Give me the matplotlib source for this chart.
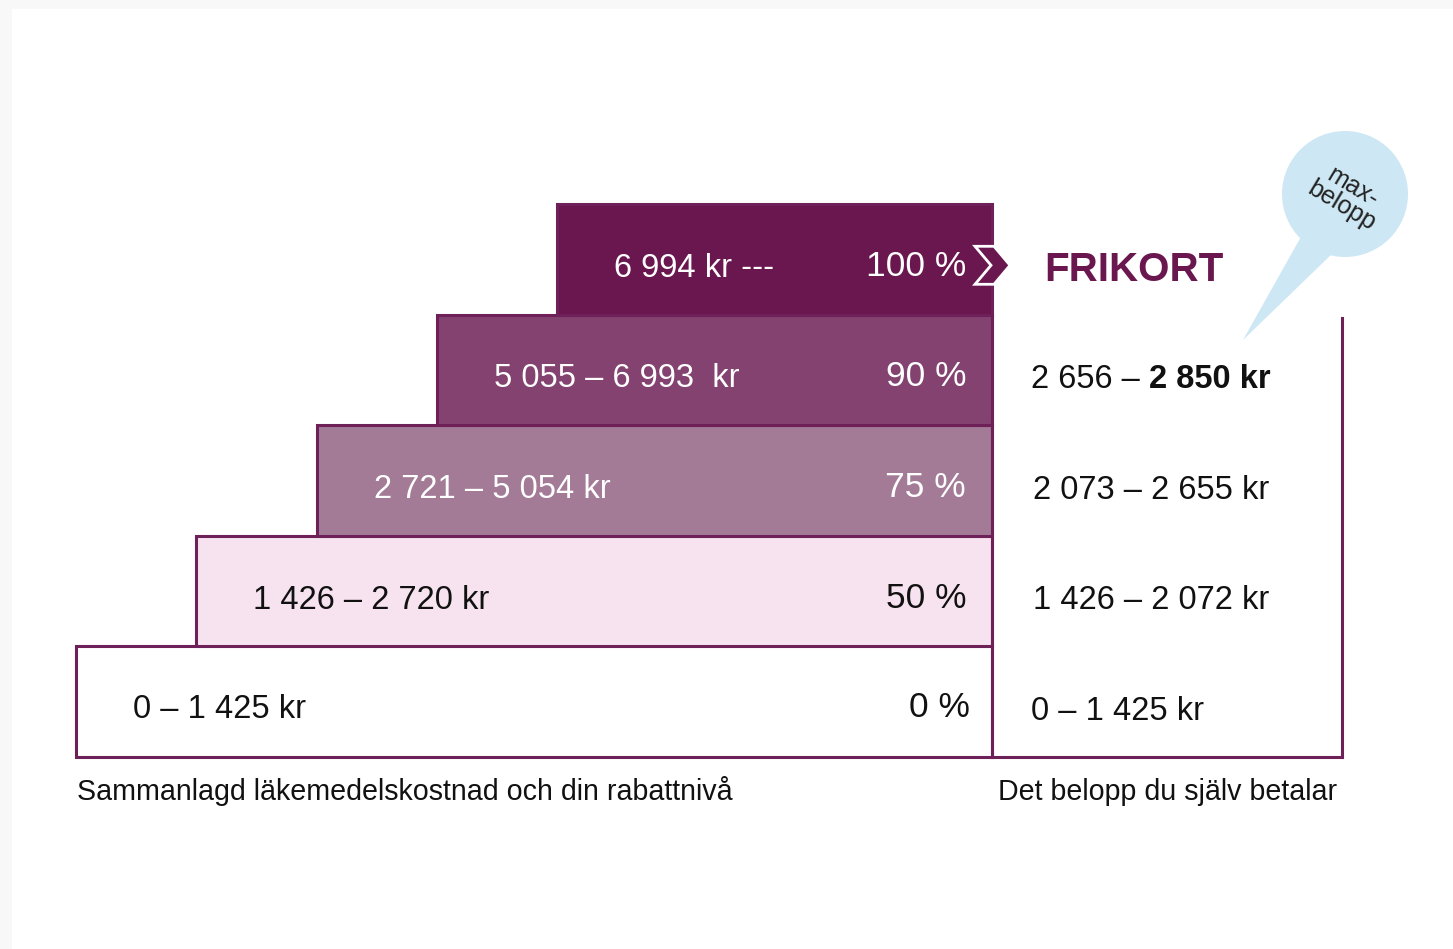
import matplotlib
matplotlib.use("Agg")
import matplotlib.pyplot as plt
from matplotlib.patches import Rectangle, Polygon, Circle

FONT = ["Liberation Sans", "DejaVu Sans"]
plt.rcParams['font.family'] = FONT

# ---- data (bottom level first) ----
cost_ranges = ["0 – 1 425 kr", "1 426 – 2 720 kr", "2 721 – 5 054 kr",
               "5 055 – 6 993  kr", "6 994 kr ---"]
discounts = ["0 %", "50 %", "75 %", "90 %", "100 %"]
own_pay_plain = ["0 – 1 425 kr", "1 426 – 2 072 kr", "2 073 – 2 655 kr", "2 656 – "]
own_pay_bold = ["", "", "", "2 850 kr"]
bar_colors = ["#ffffff", "#f6e3ef", "#a37b97", "#83426f", "#6a174f"]
text_colors = ["#111111", "#111111", "#ffffff", "#ffffff", "#ffffff"]
left_caption = "Sammanlagd läkemedelskostnad och din rabattnivå"
right_caption = "Det belopp du själv betalar"
frikort_label = "FRIKORT"
bubble_label = "max-\nbelopp"

PLUM = "#6a174f"
EDGE = "#6e2059"

W, H = 1453, 949
fig = plt.figure(figsize=(W / 100, H / 100), dpi=100)
fig.patch.set_facecolor("white")
# light gray frame strips (screenshot border)
fig.add_artist(Rectangle((0, 1 - 9 / H), 1, 9 / H, transform=fig.transFigure,
                         color="#f8f8f8", lw=0))
fig.add_artist(Rectangle((0, 0), 12 / W, 1, transform=fig.transFigure,
                         color="#f8f8f8", lw=0))

ax = fig.add_axes([0, 0, 1, 1])
ax.set_xlim(0, W)
ax.set_ylim(H, 0)
ax.axis("off")
ax.patch.set_alpha(0)

x0, x_right = 76, 992
step_w = 120.25
y_bottom, step_h = 757, 110.6
n = len(cost_ranges)

lefts = [x0 + i * step_w for i in range(n)]
centers = [y_bottom - (i + 0.5) * step_h for i in range(n)]
widths = [x_right - l for l in lefts]

ax.barh(centers, widths, height=step_h, left=lefts, color=bar_colors,
        edgecolor=EDGE, linewidth=2.2, zorder=2)

fs = 23.5
fs_pct = 25.5
for i in range(n):
    base = centers[i] + (16.5 if i == 0 else 17.5)
    ax.text(lefts[i] + 57, base, cost_ranges[i], color=text_colors[i],
            fontsize=fs, family=FONT, ha="left", va="baseline", zorder=5)
    rx = 970 if i == 0 else 966
    ax.text(rx, base - 1, discounts[i], color=text_colors[i],
            fontsize=fs_pct, family=FONT, ha="right", va="baseline", zorder=5)

# right box
box_right = 1342
ax.plot([box_right, box_right], [318, y_bottom], color=EDGE, lw=2.2, zorder=3)
ax.plot([x_right, box_right], [y_bottom, y_bottom], color=EDGE, lw=2.2, zorder=3)
ax.plot([x_right, x_right], [centers[3] - step_h / 2, y_bottom], color=EDGE, lw=2.2, zorder=3)

for i in range(len(own_pay_plain)):
    xs = 1031 if i in (0, 3) else 1033
    t = ax.text(xs, centers[i] + 18, own_pay_plain[i], color="#111111",
                fontsize=fs, family=FONT, ha="left", va="baseline", zorder=5)
    if own_pay_bold[i]:
        ax.annotate(own_pay_bold[i], xy=(1, 0), xycoords=t, color="#111111",
                    fontsize=fs, family=FONT, fontweight="bold",
                    ha="left", va="bottom", zorder=5)

# chevron arrow at top bar
yc = centers[4] + 6
chev = Polygon([(975, yc - 19), (994, yc - 19), (1010, yc), (994, yc + 19),
                (975, yc + 19), (991, yc)], closed=True, facecolor=PLUM,
               edgecolor="white", lw=2, zorder=6)
ax.add_patch(chev)

ax.text(1044, 281, frikort_label, color=PLUM, fontsize=29, fontweight="bold",
        family=FONT, ha="left", va="baseline", zorder=5)

# speech bubble
BLUE = "#cde7f4"
ax.add_patch(Circle((1345, 194), 63, facecolor=BLUE, edgecolor="none", zorder=4))
ax.add_patch(Polygon([(1243, 340), (1302, 235), (1334, 252)], closed=True,
                     facecolor=BLUE, edgecolor="none", zorder=4))
ax.text(1347, 197, bubble_label, rotation=-31, rotation_mode="anchor",
        fontsize=18, family=FONT, color="#222222", ha="center", va="center",
        multialignment="center", linespacing=0.9, zorder=5)

# captions
ax.text(77, 800, left_caption, fontsize=20.6, family=FONT, color="#111111",
        ha="left", va="baseline")
ax.text(998, 800, right_caption, fontsize=20.6, family=FONT, color="#111111",
        ha="left", va="baseline")

fig.savefig("out.png", dpi=100)
